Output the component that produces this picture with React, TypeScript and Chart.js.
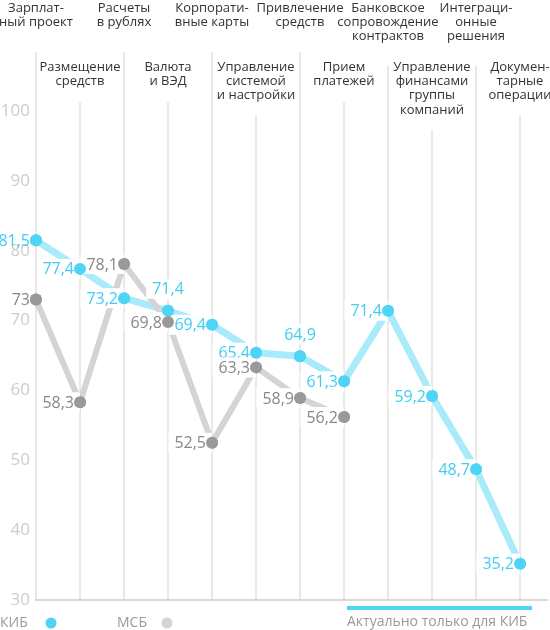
import { useEffect, useRef } from "react";
import { Chart, registerables } from "chart.js";
import type { Plugin } from "chart.js";

Chart.register(...registerables);

const FONT = '"Open Sans", "Noto Sans", sans-serif';

// categories (multi-line labels), alternating between two label rows
const categories: string[][] = [
  ["Зарплат-", "ный проект"],
  ["Размещение", "средств"],
  ["Расчеты", "в рублях"],
  ["Валюта", "и ВЭД"],
  ["Корпорати-", "вные карты"],
  ["Управление", "системой", "и настройки"],
  ["Привлечение", "средств"],
  ["Прием", "платежей"],
  ["Банковское", "сопровождение", "контрактов"],
  ["Управление", "финансами", "группы", "компаний"],
  ["Интеграци-", "онные", "решения"],
  ["Докумен-", "тарные", "операции"],
];

const kib = [81.5, 77.4, 73.2, 71.4, 69.4, 65.4, 64.9, 61.3, 71.4, 59.2, 48.7, 35.2];
const msb = [73, 58.3, 78.1, 69.8, 52.5, 63.3, 58.9, 56.2, null, null, null, null];

const seriesNames = ["КИБ", "МСБ"];
const kibLabelsAbove = [3, 6];
const kibOnlyFrom = 8;
const noteText = "Актуально только для КИБ";

const yMin = 30;
const yMax = 100;
const yStep = 10;

const KIB_DOT = "#4fd4f6";
const KIB_LINE = "#a9ebfb";
const KIB_TEXT = "#40cdf2";
const MSB_DOT = "#999999";
const MSB_LINE = "#d4d4d4";
const MSB_TEXT = "#888888";
const GRID = "#e8e8e8";

const fmt = (v: number) => String(v).replace(".", ",");

const chrome: Plugin<"line"> = {
  id: "chrome",
  beforeDatasetsDraw(chart) {
    const { ctx, chartArea } = chart;
    const xs = chart.scales.x;
    ctx.save();
    // vertical grid lines, starting under each category label
    ctx.strokeStyle = GRID;
    ctx.lineWidth = 2;
    categories.forEach((lines, i) => {
      const x = xs.getPixelForValue(i);
      const top = (i % 2 === 0 ? 52 : 102) + (lines.length - 2) * 14;
      ctx.beginPath();
      ctx.moveTo(x, top);
      ctx.lineTo(x, chartArea.bottom);
      ctx.stroke();
    });
    // bottom axis line
    ctx.strokeStyle = "#cccccc";
    ctx.lineWidth = 1.5;
    ctx.beginPath();
    ctx.moveTo(chartArea.left - 1, chartArea.bottom);
    ctx.lineTo(548, chartArea.bottom);
    ctx.stroke();
    ctx.restore();
  },
  afterDatasetsDraw(chart) {
    const { ctx, chartArea } = chart;
    ctx.save();
    ctx.font = `16px ${FONT}`;
    ctx.textBaseline = "middle";
    ctx.textAlign = "left";
    const colors = [KIB_TEXT, MSB_TEXT];
    chart.data.datasets.forEach((ds, di) => {
      const meta = chart.getDatasetMeta(di);
      meta.data.forEach((pt, i) => {
        const v = ds.data[i] as number | null;
        if (v == null) return;
        const text = fmt(v);
        const w = ctx.measureText(text).width;
        const above = di === 0 && kibLabelsAbove.includes(i);
        const tx = above ? pt.x - w / 2 : pt.x - 6 - w;
        const ty = above ? pt.y - 22 : pt.y;
        const bx = Math.max(tx - 6, chartArea.left + 1);
        const bw = above ? w + 12 : pt.x - bx;
        ctx.fillStyle = "#ffffff";
        if (bw > 0) ctx.fillRect(bx, ty - 10, bw, 20);
        ctx.fillStyle = colors[di];
        ctx.fillText(text, tx, ty + 1);
      });
    });
    // points back on top of the label boxes
    chart.data.datasets.forEach((_, di) => {
      chart.getDatasetMeta(di).data.forEach((p) => p.draw(ctx));
    });
    ctx.restore();
  },
  afterDraw(chart) {
    const { ctx } = chart;
    const xs = chart.scales.x;
    ctx.save();
    // category labels
    ctx.font = `13px ${FONT}`;
    ctx.fillStyle = "#333333";
    ctx.textAlign = "center";
    ctx.textBaseline = "middle";
    categories.forEach((lines, i) => {
      const x = xs.getPixelForValue(i);
      const y0 = i % 2 === 0 ? 8 : 67;
      lines.forEach((l, k) => ctx.fillText(l, x, y0 + k * 14.3));
    });
    // legend
    ctx.font = `14px ${FONT}`;
    ctx.fillStyle = "#999999";
    ctx.textAlign = "left";
    ctx.fillText(seriesNames[0], 0, 623);
    ctx.fillText(seriesNames[1], 117, 623);
    ctx.fillStyle = KIB_DOT;
    ctx.beginPath();
    ctx.arc(51, 623, 5.5, 0, Math.PI * 2);
    ctx.fill();
    ctx.fillStyle = MSB_LINE;
    ctx.beginPath();
    ctx.arc(167, 623, 5.5, 0, Math.PI * 2);
    ctx.fill();
    // "only for KIB" note
    const bx0 = xs.getPixelForValue(kibOnlyFrom - 1) + 3;
    const bx1 = xs.getPixelForValue(categories.length - 1) + 12;
    ctx.fillStyle = KIB_DOT;
    ctx.fillRect(bx0, 606, bx1 - bx0, 4);
    ctx.fillStyle = "#999999";
    ctx.fillText(noteText, bx0, 622);
    ctx.restore();
  },
};

export default function App() {
  const canvasRef = useRef<HTMLCanvasElement>(null);

  useEffect(() => {
    if (!canvasRef.current) return;
    Chart.defaults.font.family = FONT;

    const chart = new Chart(canvasRef.current, {
      type: "line",
      data: {
        labels: categories,
        datasets: [
          {
            label: seriesNames[0],
            data: kib,
            borderColor: KIB_LINE,
            borderWidth: 7,
            pointBackgroundColor: KIB_DOT,
            pointBorderWidth: 0,
            pointRadius: 6,
            borderJoinStyle: "round",
            tension: 0,
            clip: false,
            order: 1,
          },
          {
            label: seriesNames[1],
            data: msb,
            borderColor: MSB_LINE,
            borderWidth: 6,
            pointBackgroundColor: MSB_DOT,
            pointBorderWidth: 0,
            pointRadius: 6,
            borderJoinStyle: "round",
            tension: 0,
            clip: false,
            order: 0,
          },
        ],
      },
      options: {
        animation: false,
        responsive: true,
        maintainAspectRatio: false,
        layout: { padding: { top: 111, bottom: 30, right: 30, left: 0 } },
        plugins: { legend: { display: false }, tooltip: { enabled: false } },
        scales: {
          x: { display: false },
          y: {
            min: yMin,
            max: yMax,
            ticks: { stepSize: yStep, color: "#cccccc", font: { size: 17 }, padding: 6 },
            grid: { display: false, drawTicks: false },
            border: { display: false },
            afterFit: (s) => {
              s.width = 36;
            },
          },
        },
      },
      plugins: [chrome],
    });

    return () => chart.destroy();
  }, []);

  return (
    <div style={{ position: "fixed", left: 0, top: 0, width: 550, height: 630, background: "#fff" }}>
      <canvas ref={canvasRef} />
    </div>
  );
}
